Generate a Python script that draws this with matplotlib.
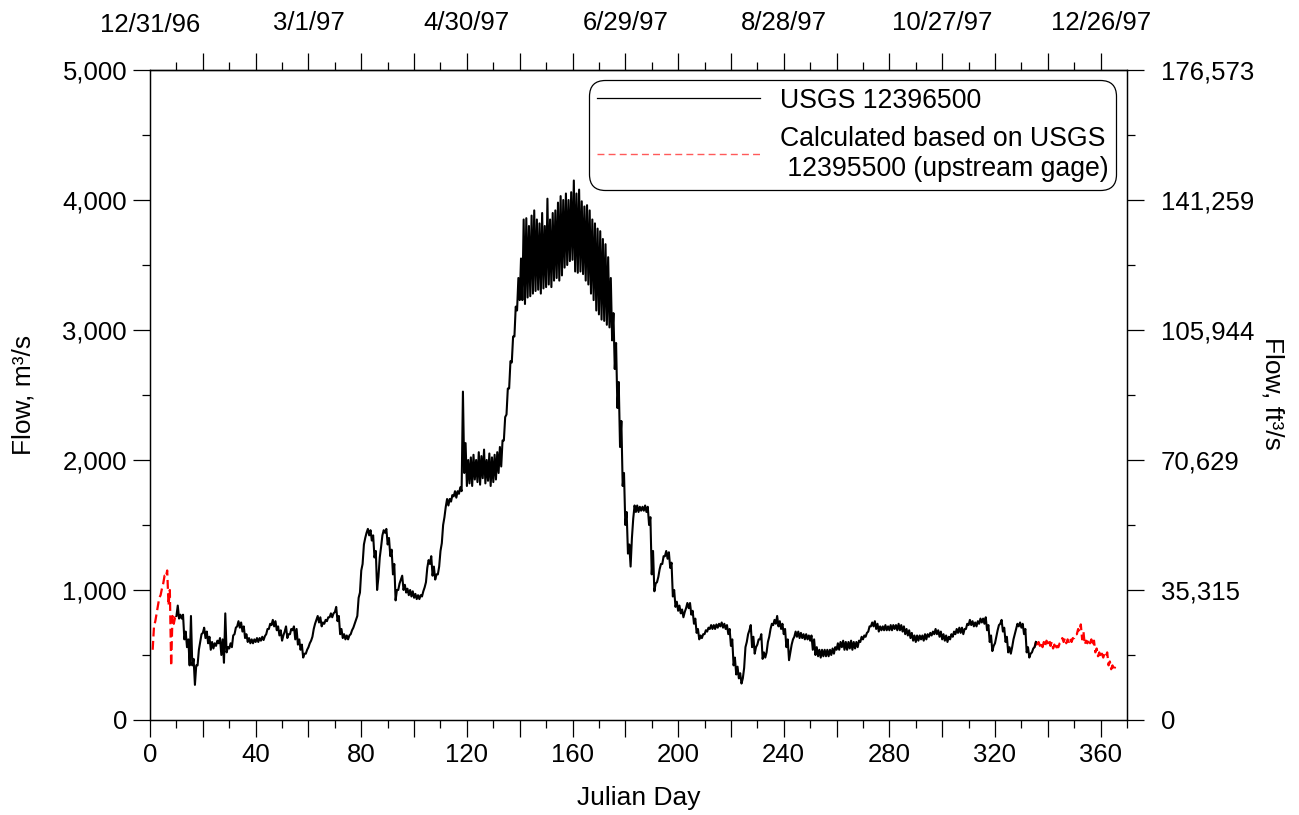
import numpy as np
import matplotlib
matplotlib.use("Agg")
import matplotlib.pyplot as plt
from matplotlib.ticker import MultipleLocator, FixedLocator, FuncFormatter
from matplotlib.lines import Line2D

plt.rcParams['font.family'] = ['Liberation Sans', 'DejaVu Sans']

# ---------------------------------------------------------------
# Daily low / high flow (m3/s), gage USGS 12396500, from day 10
# ---------------------------------------------------------------
gage_first_day = 10
gage_low = [
    800, 780, 780, 620, 560, 420, 420, 270, 420, 600,       # 10
    670, 630, 590, 540, 550, 570, 590, 500, 440, 520,       # 20
    550, 560, 660, 720, 710, 680, 630, 600, 590, 590,       # 30
    600, 600, 610, 615, 660, 700, 730, 720, 690, 650,       # 40
    610, 680, 630, 660, 690, 620, 580, 540, 480, 510,       # 50
    560, 610, 700, 770, 750, 720, 740, 760, 790, 790,       # 60
    830, 760, 660, 630, 620, 620, 660, 710, 770, 940,       # 70
    1150, 1350, 1440, 1420, 1380, 1250, 1000, 1250, 1420, 1440,  # 80
    1350, 1260, 1120, 920, 1000, 1080, 1000, 980, 960, 950,  # 90
    940, 930, 930, 950, 1020, 1170, 1200, 1110, 1080, 1120,  # 100
    1300, 1500, 1640, 1650, 1680, 1720, 1710, 1740, 1760, 1900,  # 110
    1800, 1820, 1800, 1850, 1830, 1810, 1860, 1820, 1840, 1800,  # 120
    1830, 1850, 1900, 1950, 2150, 2350, 2550, 2750, 2950, 3150,  # 130
    3230, 3230, 3200, 3250, 3260, 3280, 3300, 3310, 3280, 3320,  # 140
    3330, 3350, 3330, 3380, 3400, 3380, 3420, 3480, 3500, 3530,  # 150
    3540, 3450, 3440, 3450, 3430, 3380, 3350, 3280, 3230, 3150,  # 160
    3120, 3080, 3070, 3040, 3020, 2920, 2700, 2400, 2100, 1800,  # 170
    1500, 1280, 1180, 1550, 1600, 1600, 1610, 1610, 1600, 1500,  # 180
    1120, 990, 1060, 1160, 1200, 1260, 1240, 1170, 950, 870,  # 190
    840, 820, 790, 860, 860, 810, 740, 670, 620, 630,       # 200
    660, 680, 700, 700, 700, 710, 720, 710, 700, 660,       # 210
    570, 420, 350, 320, 280, 400, 600, 690, 560, 510,       # 220
    580, 620, 470, 480, 600, 700, 730, 740, 720, 700,       # 230
    660, 560, 460, 580, 640, 640, 630, 630, 620, 620,       # 240
    610, 540, 500, 490, 480, 490, 490, 490, 500, 510,       # 250
    540, 540, 560, 540, 540, 550, 540, 550, 560, 600,       # 260
    620, 640, 680, 720, 720, 700, 680, 690, 690, 690,       # 270
    690, 690, 700, 690, 690, 680, 660, 650, 630, 610,       # 280
    600, 610, 620, 610, 620, 640, 650, 660, 660, 640,       # 290
    620, 610, 600, 620, 640, 660, 670, 670, 660, 700,       # 300
    730, 730, 720, 720, 740, 750, 740, 690, 600, 530,       # 310
    590, 690, 740, 680, 600, 520, 510, 620, 700, 720,       # 320
    710, 660, 520, 480, 520, 560,                           # 330
]
gage_high = [
    880, 810, 810, 680, 620, 800, 470, 420, 540, 660,       # 10
    710, 680, 640, 600, 590, 610, 630, 620, 820, 560,       # 20
    590, 650, 710, 760, 750, 720, 660, 630, 620, 620,       # 30
    630, 630, 640, 645, 700, 740, 770, 760, 720, 690,       # 40
    650, 720, 660, 700, 720, 700, 620, 580, 510, 540,       # 50
    590, 640, 740, 800, 790, 750, 770, 790, 820, 820,       # 60
    870, 800, 700, 660, 650, 650, 690, 740, 800, 980,       # 70
    1200, 1400, 1470, 1460, 1420, 1300, 1100, 1330, 1460, 1470,  # 80
    1400, 1310, 1200, 1000, 1050, 1110, 1040, 1010, 1000, 990,  # 90
    970, 960, 960, 990, 1060, 1230, 1260, 1180, 1120, 1180,  # 100
    1360, 1560, 1700, 1700, 1730, 1760, 1760, 1790, 2526, 2130,  # 110
    2000, 2020, 2040, 2000, 2060, 2030, 2080, 2000, 2050, 2020,  # 120
    2040, 2060, 2100, 2150, 2330, 2550, 2760, 2950, 3180, 3400,  # 130
    3550, 3850, 3860, 3800, 3880, 3920, 3850, 3820, 3900, 3800,  # 140
    4010, 3850, 3900, 3920, 3980, 4030, 4000, 4050, 4000, 4060,  # 150
    4150, 4050, 4080, 3990, 3950, 3960, 3920, 3850, 3820, 3780,  # 160
    3760, 3700, 3660, 3560, 3400, 3130, 2900, 2600, 2300, 1900,  # 170
    1600, 1350, 1400, 1650, 1650, 1640, 1640, 1650, 1640, 1560,  # 180
    1300, 1050, 1100, 1200, 1260, 1300, 1290, 1210, 1000, 910,  # 190
    880, 850, 830, 900, 900, 840, 780, 700, 650, 660,       # 200
    690, 710, 730, 730, 735, 740, 750, 740, 730, 700,       # 210
    620, 480, 410, 360, 320, 560, 660, 730, 640, 560,       # 220
    620, 660, 520, 520, 640, 740, 770, 800, 760, 740,       # 230
    700, 620, 520, 620, 680, 680, 670, 660, 660, 650,       # 240
    650, 620, 560, 540, 540, 540, 540, 540, 550, 560,       # 250
    590, 600, 610, 600, 600, 610, 600, 600, 610, 640,       # 260
    650, 670, 720, 750, 760, 740, 720, 720, 730, 720,       # 270
    730, 730, 730, 740, 730, 720, 700, 690, 670, 650,       # 280
    650, 650, 650, 660, 660, 670, 680, 700, 690, 680,       # 290
    660, 650, 640, 660, 680, 700, 710, 710, 700, 740,       # 300
    770, 760, 750, 760, 780, 780, 790, 730, 650, 570,       # 310
    640, 730, 770, 710, 640, 560, 560, 660, 740, 750,       # 320
    740, 700, 560, 510, 550, 600,                           # 330
]

# Flow estimated from the upstream gage (USGS 12395500)
calc_early_first_day = 1
calc_early_low = [540, 760, 880, 960, 1050, 1100, 880, 415, 740, 780]
calc_early_high = [720, 820, 940, 1010, 1110, 1150, 1000, 800, 790, 820]

calc_late_first_day = 335
calc_late_low = [560, 560, 570, 560, 570, 590, 570, 550, 540, 560,
                 600, 600, 590, 600, 600, 630, 660, 680, 620, 580,
                 590, 590, 570, 520, 490, 480, 480, 490, 420, 390, 380]
calc_late_high = [600, 600, 600, 600, 610, 620, 600, 580, 570, 590,
                  630, 630, 620, 630, 630, 660, 700, 735, 680, 610,
                  620, 620, 610, 550, 520, 510, 510, 520, 450, 420, 410]

# Axis labels
bottom_ticks = [0, 40, 80, 120, 160, 200, 240, 280, 320, 360]
top_ticks = [0, 60, 120, 180, 240, 300, 360]
top_labels = ['12/31/96', '3/1/97', '4/30/97', '6/29/97',
              '8/28/97', '10/27/97', '12/26/97']
left_ticks = [0, 1000, 2000, 3000, 4000, 5000]
left_labels = ['0', '1,000', '2,000', '3,000', '4,000', '5,000']
right_labels = ['0', '35,315', '70,629', '105,944', '141,259', '176,573']


def daily_trace(first_day, lows, highs):
    """Each day contributes its low and its high, half a day apart."""
    xs, ys = [], []
    for i, (lo, hi) in enumerate(zip(lows, highs)):
        xs += [first_day + i, first_day + i + 0.5]
        ys += [lo, hi]
    return np.array(xs), np.array(ys)


fig = plt.figure(figsize=(12.99, 8.15), dpi=100)
ax = fig.add_axes([0.1155, 0.1166, 0.7521, 0.7975])

red_style = dict(color='#ff0000', lw=1.6, ls=(0, (4, 2)))
x, y = daily_trace(calc_early_first_day, calc_early_low, calc_early_high)
ax.plot(x, y, **red_style)
x, y = daily_trace(calc_late_first_day, calc_late_low, calc_late_high)
ax.plot(x, y, **red_style)
x, y = daily_trace(gage_first_day, gage_low, gage_high)
ax.plot(x, y, color='black', lw=1.5)

ax.set_xlim(0, 370)
ax.set_ylim(0, 5000)

tick_fs = 18.5
for side in ax.spines.values():
    side.set_linewidth(0.9)

# bottom axis
ax.xaxis.set_major_locator(MultipleLocator(20))
ax.xaxis.set_minor_locator(MultipleLocator(10))
ax.xaxis.set_major_formatter(
    FuncFormatter(lambda v, p: f"{int(round(v))}" if int(round(v)) in bottom_ticks else ""))
ax.tick_params(axis='x', which='major', direction='out', length=12.5, width=0.9,
               labelsize=tick_fs, pad=4)
ax.tick_params(axis='x', which='minor', direction='out', length=6, width=0.9)

# left axis
ax.yaxis.set_major_locator(FixedLocator(left_ticks))
ax.yaxis.set_minor_locator(MultipleLocator(500))
ax.set_yticklabels(left_labels)
ax.tick_params(axis='y', which='major', direction='out', length=12.5, width=0.9,
               labelsize=tick_fs, pad=4)
ax.tick_params(axis='y', which='minor', direction='out', length=6, width=0.9)

# right axis (ft3/s)
ax2 = ax.twinx()
ax2.set_ylim(0, 5000)
ax2.yaxis.set_major_locator(FixedLocator(left_ticks))
ax2.yaxis.set_minor_locator(MultipleLocator(500))
ax2.set_yticklabels(right_labels)
ax2.tick_params(axis='y', which='major', direction='out', length=12.5, width=0.9,
                labelsize=tick_fs, pad=12)
ax2.tick_params(axis='y', which='minor', direction='out', length=6, width=0.9)
for side in ax2.spines.values():
    side.set_linewidth(0.9)

# top axis (calendar dates); no tick mark at day 0
top = ax.secondary_xaxis('top')
top.xaxis.set_major_locator(FixedLocator(list(range(20, 361, 20))))
top.xaxis.set_minor_locator(FixedLocator(list(range(10, 361, 20))))
date_of = dict(zip(top_ticks, top_labels))
top.xaxis.set_major_formatter(FuncFormatter(lambda v, p: date_of.get(int(round(v)), "")))
top.tick_params(axis='x', which='major', direction='out', length=12.5, width=0.9,
                labelsize=tick_fs, pad=13)
top.tick_params(axis='x', which='minor', direction='out', length=6, width=0.9)
top.spines['top'].set_linewidth(0.9)
fig.text(0.1155, 1 - 25 / 815, top_labels[0], ha='center', va='center',
         fontsize=tick_fs)

# axis titles
fig.text(0.1155 + 0.7521 / 2, 1 - 798 / 815, 'Julian Day', ha='center', va='center',
         fontsize=19)
fig.text(23 / 1299, 1 - 395 / 815, 'Flow, m³/s', ha='center', va='center',
         rotation=90, fontsize=19)
fig.text(1272 / 1299, 1 - 393 / 815, 'Flow, ft³/s', ha='center', va='center',
         rotation=270, fontsize=19)

handles = [Line2D([], [], color='black', lw=0.9),
           Line2D([], [], color='#ff5a5a', lw=1.0, ls=(0, (5, 3)))]
labels = ['USGS 12396500', 'Calculated based on USGS\n 12395500 (upstream gage)']
leg = ax.legend(handles, labels, loc='upper right', bbox_to_anchor=(0.989, 0.985),
                borderaxespad=0, fontsize=19.2, handlelength=6.1, handletextpad=0.75,
                labelspacing=0.45, borderpad=0.3, frameon=True, fancybox=True,
                framealpha=1, edgecolor='black')
leg.get_frame().set_linewidth(0.9)
leg.get_frame().set_boxstyle('round', pad=0, rounding_size=0.6)

fig.savefig('out.png', dpi=100)
